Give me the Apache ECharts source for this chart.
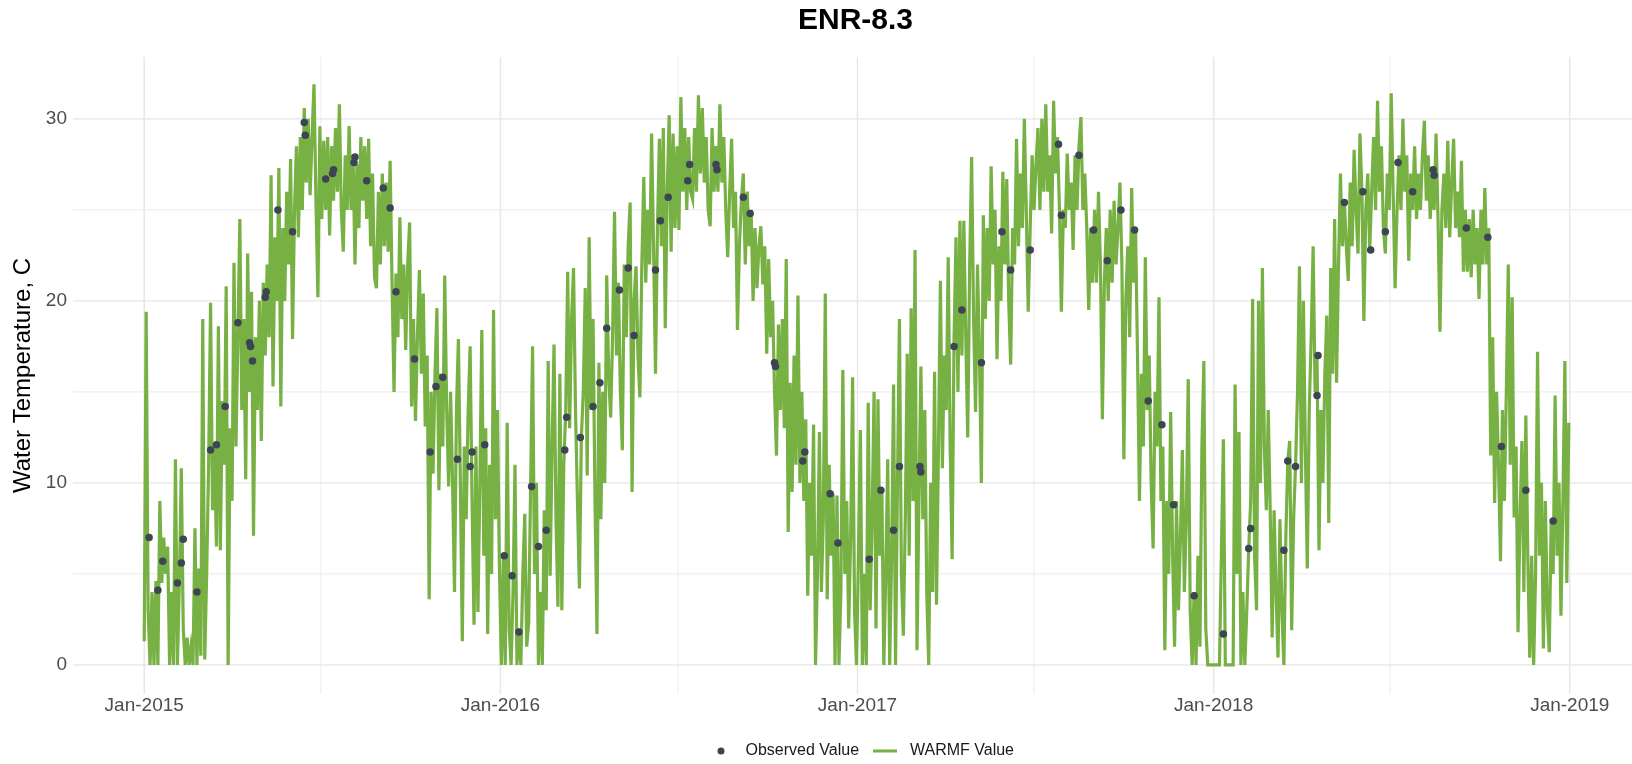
<!DOCTYPE html>
<html>
<head>
<meta charset="utf-8">
<script src="https://cdn.jsdelivr.net/npm/echarts@6/dist/echarts.min.js"></script>
<style>
html,body{margin:0;padding:0;background:#ffffff;}
#chart{width:1632px;height:764px;}
</style>
</head>
<body>
<div id="chart"></div>
<script>
// ---------------- data ----------------
const titleText = 'ENR-8.3';
const yAxisTitle = 'Water Temperature, C';
const seriesNames = ['Observed Value', 'WARMF Value'];
const monthNames = ['Jan','Feb','Mar','Apr','May','Jun','Jul','Aug','Sep','Oct','Nov','Dec'];
const xTickDates = ['2015-01-01', '2016-01-01', '2017-01-01', '2018-01-01', '2019-01-01'];
const xMinorDates = ['2015-07-01', '2016-07-01', '2017-07-01', '2018-07-01'];
const yTicks = [0, 10, 20, 30];
const yMinorTicks = [5, 15, 25];
const xRange = ['2014-10-20', '2019-03-14'];
const yRange = [-1.6, 33.4];

// WARMF simulated temperature (C), one reading every 2 days from 2015-01-01
const warmfStart = '2015-01-01';
const warmfStepDays = 2;
const warmfPart1 = [ // 2015-01-01 .. 2015-12-25
  1.3, 19.4, 3.0, 0, 4.0, 0, 4.6, 0, 9.0, 4.5, 7.0, 5.0, 6.5, 0, 4.0,
  0, 11.3, 0, 4.5, 10.8, 2.0, 0, 1.5, 0, 1.0, 0, 7.5, 0, 5.3, 0.5,
  19.0, 0.3, 5.0, 11.0, 19.9, 8.5, 12.0, 6.5, 18.6, 6.3, 14.5, 11.0, 20.8, 0.0, 13.0,
  9.0, 22.1, 12.0, 18.0, 24.5, 14.0, 19.0, 10.2, 22.6, 15.0, 20.5, 7.1, 18.0, 14.0, 20.0,
  12.3, 21.0, 17.0, 22.0, 18.0, 26.9, 15.3, 23.5, 20.0, 27.3, 14.2, 24.0, 20.0, 26.0, 22.0,
  27.8, 17.9, 25.0, 28.5, 23.5, 29.0, 25.0, 30.6, 26.5, 30.0, 25.8, 29.0, 31.9, 25.5, 20.2,
  29.6, 24.5, 28.8, 25.0, 29.0, 23.6, 28.5, 25.5, 29.5, 26.0, 30.8, 25.0, 22.7, 28.0, 25.0,
  29.6, 25.0, 28.0, 22.0, 27.5, 24.0, 29.0, 25.5, 28.5, 24.5, 28.9, 23.0, 27.0, 21.3, 20.7,
  26.0, 22.0, 27.0, 23.0, 26.5, 22.7, 27.7, 21.0, 15.0, 21.5, 18.0, 24.6, 19.0, 22.0, 17.3,
  22.0, 24.3, 14.2, 19.0, 13.4, 18.0, 21.7, 16.0, 20.4, 13.1, 17.0, 3.6, 15.0, 10.5, 16.0,
  19.6, 9.6, 16.0, 12.0, 21.4, 14.0, 9.8, 15.0, 10.0, 4.0, 14.0, 17.9, 10.0, 1.3, 12.0,
  8.0, 14.0, 17.5, 9.0, 2.2, 12.0, 2.9, 10.0, 18.4, 6.0, 13.0, 1.7, 11.0, 5.0, 19.5
];
const warmfPart2 = [ // 2015-12-27 .. 2016-12-19
  8.0, 14.0, 5.5, 0, 6.0, 0, 13.3, 2.0, 0, 4.0, 11.0, 0, 2.0, 0, 5.0,
  8.3, 1.0, 2.3, 9.8, 17.5, 5.0, 10.0, 0, 4.0, 0, 8.5, 3.0, 16.7, 4.9, 12.0,
  17.6, 8.0, 3.2, 16.0, 3.0, 11.0, 14.0, 21.6, 13.0, 19.0, 21.8, 14.0, 9.0, 4.2, 12.5,
  15.0, 20.7, 10.4, 23.5, 14.0, 19.0, 9.0, 1.7, 16.6, 8.0, 15.0, 10.0, 21.4, 16.0, 13.6,
  18.0, 24.9, 17.0, 21.0, 15.0, 11.8, 22.0, 18.0, 23.0, 25.4, 9.5, 20.0, 21.9, 17.0, 14.7,
  22.0, 26.8, 21.0, 25.0, 22.0, 29.2, 23.0, 16.0, 24.0, 28.9, 23.0, 29.5, 18.5, 26.0, 30.2,
  22.7, 29.2, 24.0, 28.5, 23.9, 31.2, 26.0, 29.5, 25.0, 29.0, 26.0, 25.6, 29.5, 26.0, 31.3,
  27.0, 30.6, 26.5, 29.0, 25.0, 24.1, 29.5, 26.0, 28.5, 26.0, 30.8, 26.5, 29.0, 25.0, 22.4,
  26.0, 28.9, 24.0, 26.0, 18.4, 23.0, 25.5, 27.0, 22.0, 26.0, 23.0, 25.0, 20.0, 24.0, 20.7,
  23.0, 24.1, 20.9, 23.0, 17.1, 22.3, 18.0, 20.0, 15.0, 11.5, 18.7, 14.0, 19.0, 13.0, 22.3,
  7.3, 15.5, 9.5, 17.0, 11.0, 20.3, 10.0, 15.0, 9.0, 13.5, 3.8, 10.0, 6.0, 13.2, 0,
  5.0, 12.8, 4.0, 8.0, 20.4, 3.6, 11.0, 6.0, 9.4, 0, 9.3, 0, 4.0, 16.2, 5.0
];
const warmfPart3 = [ // 2016-12-21 .. 2017-12-14
  9.0, 2.0, 7.0, 15.8, 3.0, 0, 6.0, 12.9, 0, 5.0, 0, 14.4, 3.0, 8.0, 15.0,
  2.0, 14.6, 6.0, 9.6, 0, 5.0, 11.3, 0, 6.0, 15.4, 0, 10.0, 19.0, 5.0, 1.6,
  8.0, 17.1, 6.0, 19.6, 9.0, 22.8, 0.8, 9.0, 16.4, 8.0, 14.0, 4.0, 0, 10.0, 4.0,
  16.1, 3.3, 12.0, 21.1, 10.8, 17.0, 14.0, 22.4, 12.0, 5.8, 18.0, 23.5, 15.0, 24.4, 17.0,
  24.4, 18.0, 12.5, 22.0, 27.9, 19.0, 13.9, 22.0, 17.0, 10.0, 24.7, 19.0, 24.0, 20.0, 27.4,
  22.0, 25.0, 16.8, 23.0, 20.0, 27.1, 22.0, 26.7, 20.0, 16.5, 24.0, 22.0, 28.9, 23.0, 27.0,
  24.0, 30.0, 25.0, 19.4, 24.0, 28.0, 25.0, 27.5, 29.5, 25.0, 30.0, 26.0, 30.8, 26.0, 28.0,
  23.7, 31.0, 27.0, 29.0, 25.0, 19.4, 25.0, 24.0, 28.1, 25.0, 26.5, 22.8, 28.0, 25.0, 28.5,
  30.1, 25.0, 27.0, 24.0, 19.5, 24.0, 21.0, 25.0, 21.0, 26.0, 22.0, 13.5, 21.0, 24.0, 20.0,
  25.0, 21.0, 25.5, 22.0, 24.0, 26.5, 22.0, 11.3, 20.0, 23.0, 18.0, 26.2, 21.0, 24.0, 17.0,
  9.0, 16.0, 12.0, 22.4, 14.0, 17.0, 10.0, 6.4, 15.0, 12.0, 20.2, 9.0, 12.0, 0.8, 9.0,
  5.0, 13.9, 6.0, 1.0, 9.0, 3.0, 7.0, 11.8, 4.0, 8.0, 15.7, 3.0, 0, 4.0, 0
];
const warmfPart4 = [ // 2017-12-16 .. 2018-12-31
  6.0, 1.0, 12.0, 16.7, 2.0, 0, 0, 0, 0, 0, 0, 0, 0, 12.4, 0,
  0, 0, 0, 0, 15.4, 5.0, 12.8, 0, 4.0, 0, 3.0, 6.4, 9.0, 20.1, 6.0,
  3.0, 20.0, 10.0, 21.8, 12.0, 8.5, 14.0, 8.5, 1.5, 8.5, 4.0, 0.4, 8.0, 3.0, 0,
  7.0, 11.2, 12.3, 1.9, 8.0, 11.0, 15.0, 21.9, 10.0, 20.0, 12.0, 5.3, 14.0, 18.0, 23.0,
  15.0, 17.0, 6.3, 14.0, 10.0, 16.0, 19.2, 7.8, 21.8, 16.0, 24.5, 15.5, 22.0, 27.0, 23.0,
  25.5, 23.0, 21.1, 26.5, 23.0, 28.3, 25.0, 22.6, 29.2, 26.0, 18.9, 25.0, 27.0, 22.8, 26.0,
  29.0, 25.0, 31.0, 26.0, 28.5, 24.0, 22.6, 27.0, 25.0, 31.4, 26.0, 20.7, 25.0, 28.0, 25.0,
  30.0, 26.0, 28.0, 22.2, 27.0, 25.0, 28.5, 24.5, 27.0, 25.0, 28.0, 29.9, 25.5, 28.0, 24.5,
  27.0, 25.0, 29.2, 24.5, 18.3, 25.0, 27.0, 24.0, 28.8, 23.5, 26.5, 28.9, 24.0, 26.0, 23.5,
  27.7, 21.6, 25.0, 21.6, 24.5, 21.3, 25.0, 22.0, 24.0, 20.1, 25.0, 22.0, 26.2, 22.0, 24.0,
  11.5, 18.0, 8.9, 15.0, 11.0, 5.7, 14.0, 9.0, 15.0, 22.0, 11.0, 20.2, 8.1, 12.0, 1.8,
  8.0, 12.3, 4.0, 13.7, 6.0, 0.4, 6.0, 0, 5.0, 17.2, 6.0, 10.0, 0.9, 9.0, 3.0,
  0.7, 8.0, 5.0, 14.8, 6.0, 10.0, 2.7, 9.0, 16.7, 4.5, 13.3
];

// Observed samples: day number counted from 2015-01-01, and temperature (C)
const obsDay = [
  5, 14, 19, 34, 38, 40, 54, 68, 74, 83, 96, 108, 109, 111, 124, 125, 137, 152, 164, 165, 186, 193, 194, 215, 216, 228,
  245, 252, 258, 277, 293, 299, 306, 321, 334, 336, 349,
  369, 377, 384, 397, 404, 412, 431, 433, 447, 460, 467, 474, 487, 496, 502, 524, 529, 537, 557, 559, 586, 587, 614, 621, 646, 647, 675, 677, 703, 711,
  743, 755, 768, 774, 795, 796, 830, 838, 858, 879, 888, 908, 937, 940, 958, 973, 987, 1001, 1015, 1029, 1043, 1055, 1076,
  1106, 1132, 1134, 1168, 1172, 1180, 1202, 1203, 1230, 1249, 1257, 1272, 1285, 1300, 1321, 1322, 1355, 1377, 1391, 1416, 1444
];
const obsValue = [
  7.0, 4.1, 5.7, 4.5, 5.6, 6.9, 4.0, 11.8, 12.1, 14.2, 18.8, 17.7, 17.5, 16.7, 20.2, 20.5, 25.0, 23.8, 29.8, 29.1, 26.7, 27.0, 27.2, 27.6, 27.9, 26.6,
  26.2, 25.1, 20.5, 16.8, 11.7, 15.3, 15.8, 11.3, 10.9, 11.7, 12.1,
  6.0, 4.9, 1.8, 9.8, 6.5, 7.4, 11.8, 13.6, 12.5, 14.2, 15.5, 18.5, 20.6, 21.8, 18.1, 21.7, 24.4, 25.7, 26.6, 27.5, 27.5, 27.2, 25.7, 24.8, 16.6, 16.4, 11.2, 11.7, 9.4, 6.7,
  5.8, 9.6, 7.4, 10.9, 10.9, 10.6, 17.5, 19.5, 16.6, 23.8, 21.7, 22.8, 28.6, 24.7, 28.0, 23.9, 22.2, 25.0, 23.9, 14.5, 13.2, 8.8, 3.8,
  1.7, 6.4, 7.5, 6.3, 11.2, 10.9, 14.8, 17.0, 25.4, 26.0, 22.8, 23.8, 27.6, 26.0, 27.2, 26.9, 24.0, 23.5, 12.0, 9.6, 7.9
];

// ---------------- build ----------------
const DAY = 86400000;
function ts(s) { const p = s.split('-').map(Number); return Date.UTC(p[0], p[1] - 1, p[2]); }
const warmfAll = warmfPart1.concat(warmfPart2, warmfPart3, warmfPart4);
const t0 = ts(warmfStart);
const warmfData = warmfAll.map((v, i) => [t0 + i * warmfStepDays * DAY, v]);
const obsData = obsDay.map((d, i) => [t0 + d * DAY, obsValue[i]]);

const FONT = "'Liberation Sans', Arial, Helvetica, sans-serif";
const GREEN = '#77B043';
const DOT = '#3D4554';
const GRID_MAJOR = '#E6E6E6';
const GRID_MINOR = '#EEEEEE';

// grid line items: [x, y, kind]  kind 0 = v major, 1 = v minor, 2 = h major, 3 = h minor
const gridItems = []
  .concat(xTickDates.map(s => [ts(s), 0, 0]))
  .concat(xMinorDates.map(s => [ts(s), 0, 1]))
  .concat(yTicks.map(v => [ts(xRange[0]), v, 2]))
  .concat(yMinorTicks.map(v => [ts(xRange[0]), v, 3]));

const chart = echarts.init(document.getElementById('chart'), null, { renderer: 'canvas' });
chart.setOption({
  animation: false,
  backgroundColor: '#ffffff',
  title: {
    text: titleText,
    left: 798,
    top: 6,
    padding: 0,
    textStyle: { fontFamily: FONT, fontSize: 30, fontWeight: 'bold', color: '#000000' }
  },
  legend: [
    {
      data: [{ name: seriesNames[0], icon: 'circle' }],
      left: 717.5, top: 743, padding: 0,
      itemWidth: 7, itemHeight: 7, selectedMode: false,
      textStyle: { fontFamily: FONT, fontSize: 16, color: '#1A1A1A', padding: [0, 0, 0, 16] }
    },
    {
      data: [{ name: seriesNames[1], icon: 'rect' }],
      left: 873, top: 743, padding: 0,
      itemWidth: 24, itemHeight: 3, selectedMode: false,
      textStyle: { fontFamily: FONT, fontSize: 16, color: '#1A1A1A', padding: [0, 0, 0, 8] }
    }
  ],
  grid: { left: 73, top: 57, width: 1567, height: 637, containLabel: false, outerBoundsMode: 'none' },
  xAxis: {
    type: 'value',
    min: ts(xRange[0]),
    max: ts(xRange[1]),
    axisLine: { show: false },
    axisTick: { show: false },
    splitLine: { show: false },
    axisLabel: {
      customValues: xTickDates.map(ts),
      formatter: function (v) { const d = new Date(v); return monthNames[d.getUTCMonth()] + '-' + d.getUTCFullYear(); },
      color: '#4D4D4D', fontSize: 19, fontFamily: FONT, margin: 2,
      hideOverlap: false, showMinLabel: true, showMaxLabel: true
    }
  },
  yAxis: {
    type: 'value',
    min: yRange[0],
    max: yRange[1],
    axisLine: { show: false },
    axisTick: { show: false },
    splitLine: { show: false },
    axisLabel: { customValues: yTicks, color: '#4D4D4D', fontSize: 19, fontFamily: FONT, margin: 6 },
    name: yAxisTitle,
    nameLocation: 'middle',
    nameRotate: 90,
    nameGap: 34,
    nameTextStyle: { fontFamily: FONT, fontSize: 24, color: '#000000' }
  },
  series: [
    {
      type: 'custom',
      name: 'gridlines',
      silent: true,
      z: 0,
      data: gridItems,
      encode: { x: 0, y: 1 },
      renderItem: function (params, api) {
        const cs = params.coordSys;
        const kind = api.value(2);
        if (kind < 2) {
          const x = api.coord([api.value(0), 0])[0];
          return { type: 'line', shape: { x1: x, y1: cs.y, x2: x, y2: cs.y + cs.height },
            style: { stroke: kind === 0 ? GRID_MAJOR : GRID_MINOR, lineWidth: kind === 0 ? 1.4 : 1.1 } };
        }
        const y = api.coord([api.value(0), api.value(1)])[1];
        return { type: 'line', shape: { x1: cs.x, y1: y, x2: cs.x + cs.width, y2: y },
          style: { stroke: kind === 2 ? GRID_MAJOR : GRID_MINOR, lineWidth: kind === 2 ? 1.4 : 1.1 } };
      }
    },
    {
      type: 'line',
      name: seriesNames[1],
      data: warmfData,
      showSymbol: false,
      symbol: 'none',
      z: 2,
      lineStyle: { color: GREEN, width: 3.2, join: 'miter' },
      itemStyle: { color: GREEN }
    },
    {
      type: 'scatter',
      name: seriesNames[0],
      data: obsData,
      symbol: 'circle',
      symbolSize: 7.5,
      z: 3,
      itemStyle: { color: DOT, opacity: 1 }
    }
  ]
});
</script>
</body>
</html>
